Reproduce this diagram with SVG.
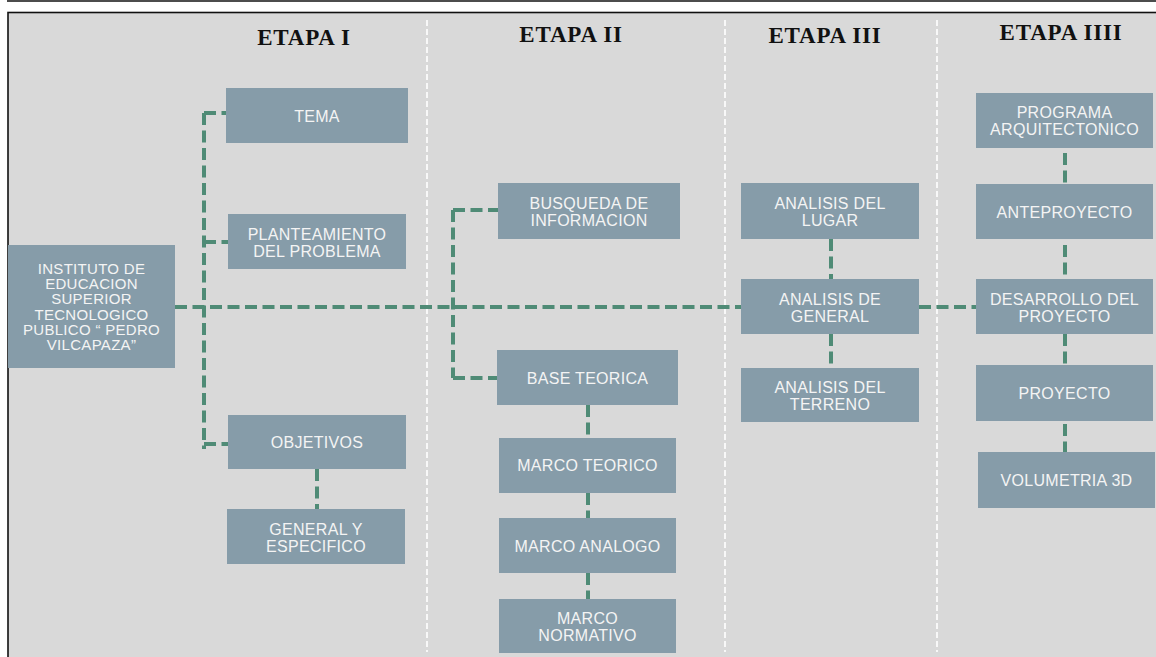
<svg xmlns="http://www.w3.org/2000/svg" width="1156" height="657" viewBox="0 0 1156 657">
  <style>
    .box { fill: #869ca9; }
    .lbl { font-family: "Liberation Sans", Arial, sans-serif; font-size: 16px; fill: #f4f4f4; text-anchor: middle; letter-spacing: 0.3px; }
    .inst { font-size: 15px; }
    .hdr { font-family: "Liberation Serif", "Times New Roman", serif; font-weight: bold; font-size: 23px; fill: #111111; text-anchor: middle; letter-spacing: 0.8px; }
    .div { stroke: #ffffff; stroke-width: 1.6; stroke-dasharray: 6 3; fill: none; }
    .con { stroke: #4f8b76; stroke-width: 4; stroke-dasharray: 12 5.5; fill: none; }
  </style>
  <rect x="0" y="0" width="1156" height="657" fill="#ffffff"/>
  <line x1="7" y1="1" x2="1156" y2="1" stroke="#111111" stroke-width="1.5"/>
  <rect x="8" y="12.5" width="1150" height="650" fill="#d9d9d9" stroke="#111111" stroke-width="1.6"/>

  <g id="dividers">
    <line class="div" x1="427" y1="20" x2="427" y2="652"/>
    <line class="div" x1="725" y1="20" x2="725" y2="652"/>
    <line class="div" x1="937" y1="20" x2="937" y2="652"/>
  </g>

  <g id="headers">
    <text class="hdr" x="304" y="45">ETAPA I</text>
    <text class="hdr" x="571" y="42">ETAPA II</text>
    <text class="hdr" x="825" y="43">ETAPA III</text>
    <text class="hdr" x="1061" y="40">ETAPA IIII</text>
  </g>

  <g id="connectors">
    <line class="con" x1="175" y1="307" x2="741" y2="307"/>
    <line class="con" x1="919" y1="307" x2="976" y2="307"/>
    <line class="con" x1="204" y1="113" x2="204" y2="449"/>
    <line class="con" x1="204" y1="113" x2="226" y2="113"/>
    <line class="con" x1="204" y1="242" x2="228" y2="242"/>
    <line class="con" x1="204" y1="444" x2="228" y2="444"/>
    <line class="con" x1="317" y1="469" x2="317" y2="509"/>
    <line class="con" x1="453" y1="210" x2="453" y2="378"/>
    <line class="con" x1="453" y1="210" x2="498" y2="210"/>
    <line class="con" x1="453" y1="378" x2="497" y2="378"/>
    <line class="con" x1="588" y1="405" x2="588" y2="438"/>
    <line class="con" x1="588" y1="493" x2="588" y2="518"/>
    <line class="con" x1="588" y1="573" x2="588" y2="599"/>
    <line class="con" x1="831" y1="239" x2="831" y2="279"/>
    <line class="con" x1="831" y1="334" x2="831" y2="368"/>
    <line class="con" x1="1065" y1="153" x2="1065" y2="184"/>
    <line class="con" x1="1065" y1="245" x2="1065" y2="279"/>
    <line class="con" x1="1065" y1="334" x2="1065" y2="365"/>
    <line class="con" x1="1065" y1="424" x2="1065" y2="452"/>
  </g>

  <g id="n-inst">
    <rect class="box" x="8" y="245" width="167" height="123"/>
    <text class="lbl inst" x="91.5" y="274">INSTITUTO DE</text>
    <text class="lbl inst" x="91.5" y="289.2">EDUCACION</text>
    <text class="lbl inst" x="91.5" y="304.4">SUPERIOR</text>
    <text class="lbl inst" x="91.5" y="319.6">TECNOLOGICO</text>
    <text class="lbl inst" x="91.5" y="334.8">PUBLICO “ PEDRO</text>
    <text class="lbl inst" x="91.5" y="350">VILCAPAZA”</text>
  </g>
  <g id="n-tema">
    <rect class="box" x="226" y="88" width="182" height="55"/>
    <text class="lbl" x="317" y="121.5">TEMA</text>
  </g>
  <g id="n-planteamiento">
    <rect class="box" x="228" y="214" width="178" height="55"/>
    <text class="lbl" x="317" y="239.5">PLANTEAMIENTO</text>
    <text class="lbl" x="317" y="256.5">DEL PROBLEMA</text>
  </g>
  <g id="n-objetivos">
    <rect class="box" x="228" y="415" width="178" height="54"/>
    <text class="lbl" x="317" y="448">OBJETIVOS</text>
  </g>
  <g id="n-general">
    <rect class="box" x="227" y="509" width="178" height="55"/>
    <text class="lbl" x="316" y="534.5">GENERAL Y</text>
    <text class="lbl" x="316" y="551.5">ESPECIFICO</text>
  </g>

  <g id="n-busqueda">
    <rect class="box" x="498" y="183" width="182" height="56"/>
    <text class="lbl" x="589" y="208.5">BUSQUEDA DE</text>
    <text class="lbl" x="589" y="225.5">INFORMACION</text>
  </g>
  <g id="n-base">
    <rect class="box" x="497" y="350" width="181" height="55"/>
    <text class="lbl" x="587.5" y="383.5">BASE TEORICA</text>
  </g>
  <g id="n-marco-teorico">
    <rect class="box" x="499" y="438" width="177" height="55"/>
    <text class="lbl" x="587.5" y="471">MARCO TEORICO</text>
  </g>
  <g id="n-marco-analogo">
    <rect class="box" x="499" y="518" width="177" height="55"/>
    <text class="lbl" x="587.5" y="551.5">MARCO ANALOGO</text>
  </g>
  <g id="n-marco-normativo">
    <rect class="box" x="499" y="599" width="177" height="54"/>
    <text class="lbl" x="587.5" y="623.5">MARCO</text>
    <text class="lbl" x="587.5" y="640.5">NORMATIVO</text>
  </g>

  <g id="n-lugar">
    <rect class="box" x="741" y="183" width="178" height="56"/>
    <text class="lbl" x="830" y="208.5">ANALISIS DEL</text>
    <text class="lbl" x="830" y="225.5">LUGAR</text>
  </g>
  <g id="n-general3">
    <rect class="box" x="741" y="279" width="178" height="55"/>
    <text class="lbl" x="830" y="304.5">ANALISIS DE</text>
    <text class="lbl" x="830" y="321.5">GENERAL</text>
  </g>
  <g id="n-terreno">
    <rect class="box" x="741" y="368" width="178" height="54"/>
    <text class="lbl" x="830" y="392.5">ANALISIS DEL</text>
    <text class="lbl" x="830" y="409.5">TERRENO</text>
  </g>

  <g id="n-programa">
    <rect class="box" x="976" y="93" width="177" height="55"/>
    <text class="lbl" x="1064.5" y="118">PROGRAMA</text>
    <text class="lbl" x="1064.5" y="135">ARQUITECTONICO</text>
  </g>
  <g id="n-anteproyecto">
    <rect class="box" x="976" y="184" width="177" height="55"/>
    <text class="lbl" x="1064.5" y="217.5">ANTEPROYECTO</text>
  </g>
  <g id="n-desarrollo">
    <rect class="box" x="976" y="279" width="177" height="55"/>
    <text class="lbl" x="1064.5" y="304.5">DESARROLLO DEL</text>
    <text class="lbl" x="1064.5" y="321.5">PROYECTO</text>
  </g>
  <g id="n-proyecto">
    <rect class="box" x="976" y="365" width="177" height="56"/>
    <text class="lbl" x="1064.5" y="399">PROYECTO</text>
  </g>
  <g id="n-volumetria">
    <rect class="box" x="978" y="452" width="177" height="56"/>
    <text class="lbl" x="1066.5" y="486">VOLUMETRIA 3D</text>
  </g>
</svg>
